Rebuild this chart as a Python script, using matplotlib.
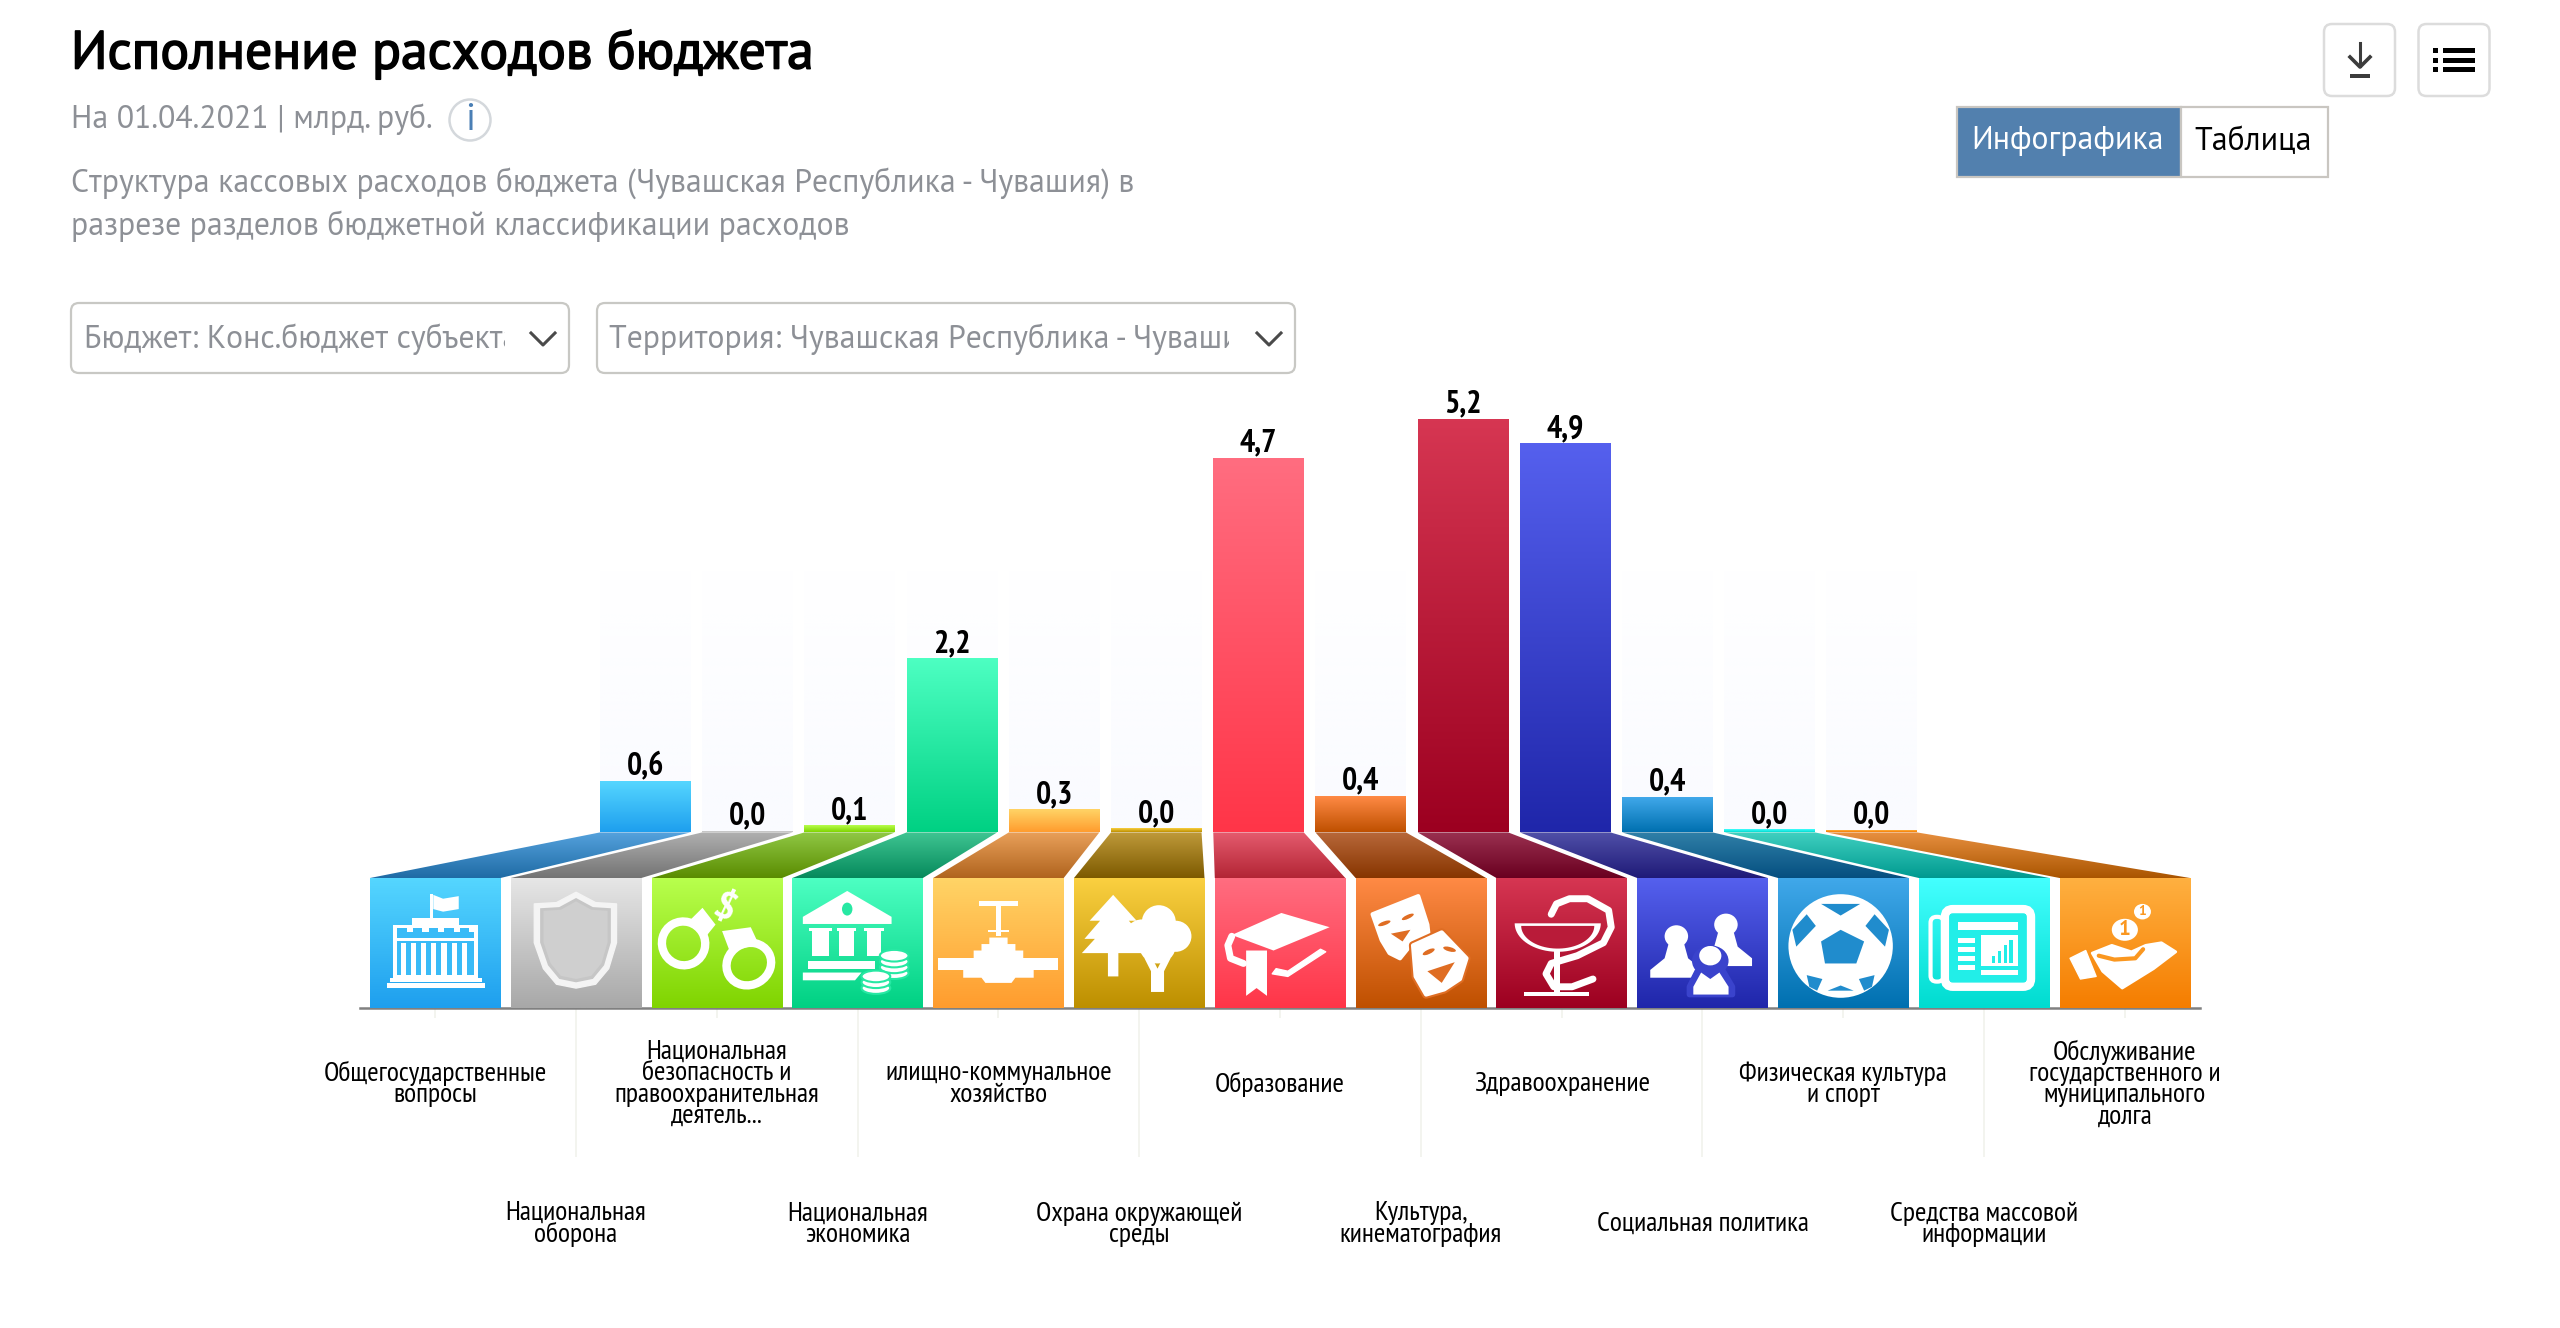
import numpy as np
import matplotlib
matplotlib.use("Agg")
import matplotlib.pyplot as plt
import matplotlib.patheffects as pe
from matplotlib.colors import to_rgb
from matplotlib.patches import Polygon, Ellipse, Rectangle, FancyBboxPatch, Circle

W, H = 2560, 1328

categories = [
    "Общегосударственные\nвопросы",
    "Национальная\nоборона",
    "Национальная\nбезопасность и\nправоохранительная\nдеятель...",
    "Национальная\nэкономика",
    "илищно-коммунальное\nхозяйство",
    "Охрана окружающей\nсреды",
    "Образование",
    "Культура,\nкинематография",
    "Здравоохранение",
    "Социальная политика",
    "Физическая культура\nи спорт",
    "Средства массовой\nинформации",
    "Обслуживание\nгосударственного и\nмуниципального\nдолга",
]
values = [0.64, 0.01, 0.08, 2.18, 0.28, 0.04, 4.71, 0.45, 5.2, 4.89, 0.44, 0.03, 0.02]
value_labels = ["0,6", "0,0", "0,1", "2,2", "0,3", "0,0", "4,7", "0,4", "5,2", "4,9", "0,4", "0,0", "0,0"]

bar_top = ["#55d6ff", "#e6e6e6", "#b8ff4d", "#4dffc2", "#ffd466", "#fad040", "#ff6d80",
           "#ff8a45", "#d63652", "#5560ee", "#40a8ea", "#44ffff", "#ffb040"]
bar_bot = ["#1e9fee", "#a8a8a8", "#80d400", "#00d183", "#ff9c2e", "#bd8f00", "#ff3548",
           "#bf5000", "#9c0020", "#1f26aa", "#0070b0", "#00dcd0", "#f57d00"]
trap_top = ["#55a2dd", "#b0b0b0", "#90c845", "#3fc592", "#e9a05a", "#bf9a3a", "#e55b6e",
            "#b8683a", "#9a3050", "#5050a8", "#3080a8", "#40d0c0", "#e89040"]
trap_bot = ["#1f6ba5", "#737373", "#5a8c00", "#068a5c", "#b0641e", "#7d5a00", "#b32535",
            "#873500", "#6a0020", "#1f1a78", "#054f80", "#009a90", "#aa5500"]

NARROW = ["PT Sans Narrow", "Liberation Sans Narrow", "Roboto", "DejaVu Sans"]
SANS = ["PT Sans", "Roboto", "DejaVu Sans"]
GRAY = "#8d9096"


def px_axes(l, t, r, b, **kw):
    return fig.add_axes([l / W, 1 - b / H, (r - l) / W, (b - t) / H], **kw)


def grad(a, l, r, b, t, c_top, c_bot, clip=None, alpha=None, zorder=2):
    c0, c1 = np.array(to_rgb(c_top)), np.array(to_rgb(c_bot))
    k = np.linspace(0, 1, 128)[:, None, None]
    img = c0 * (1 - k) + c1 * k
    if alpha is not None:
        img = np.dstack([img, (alpha[0] * (1 - k) + alpha[1] * k)])
    im = a.imshow(img, extent=(l, r, b, t), aspect="auto", interpolation="bilinear", zorder=zorder)
    if clip is not None:
        im.set_clip_path(clip)
    return im


fig = plt.figure(figsize=(W / 100, H / 100), dpi=100, facecolor="white")

# bars, value axis: 79.4 px per unit, base at y=832.4
BAR_PITCH, BAR_W, BAR_X0, BASE_Y, UNIT = 102.2, 90.5, 645.3, 832.4, 79.4
ax_l, ax_r, ax_t = 560, 1980, 380
ax = px_axes(ax_l, ax_t, ax_r, BASE_Y, zorder=2)
ax.set_xlim((ax_l - BAR_X0) / BAR_PITCH, (ax_r - BAR_X0) / BAR_PITCH)
ax.set_ylim(0, (BASE_Y - ax_t) / UNIT)
ax.set_autoscale_on(False)
ax.axis("off")
xs = np.arange(len(values))
wd = BAR_W / BAR_PITCH
bars = ax.bar(xs, values, width=wd, color=bar_bot, zorder=3)
for i, b in enumerate(bars):
    grad(ax, b.get_x(), b.get_x() + wd, 0, 3.3, "#fafbff", "#fafbff", alpha=(0, 1), zorder=1)
    grad(ax, b.get_x(), b.get_x() + wd, 0, values[i], bar_top[i], bar_bot[i], zorder=4)
    ax.annotate(value_labels[i], (i, values[i]), xytext=(0, 0), textcoords="offset pixels",
                ha="center", va="bottom", fontsize=23, fontweight="bold", family=NARROW, color="black", zorder=5)

# icon tiles, category axis
TILE_PITCH, TILE_W, TILE_X0, TILE_T, AXIS_Y = 140.8, 130.5, 435.25, 878, 1007.5
cat_l, cat_r = 360, 2200
ax_cat = px_axes(cat_l, TILE_T, cat_r, AXIS_Y, zorder=3)
ax_cat.set_xlim((cat_l - TILE_X0) / TILE_PITCH, (cat_r - TILE_X0) / TILE_PITCH)
ax_cat.set_ylim(0, 1)
ax_cat.set_autoscale_on(False)
ax_cat.patch.set_visible(False)
for s in ["top", "left", "right"]:
    ax_cat.spines[s].set_visible(False)
ax_cat.spines["bottom"].set_color("#808080")
ax_cat.spines["bottom"].set_linewidth(1.8)
ax_cat.set_yticks([])
ax_cat.set_xticks(np.arange(0, 13, 2))
ax_cat.set_xticks(np.arange(1, 13, 2), minor=True)
ax_cat.set_xticklabels([])
ax_cat.tick_params(axis="x", which="major", length=7, width=1.4, color="#f3f4ef")
ax_cat.tick_params(axis="x", which="minor", length=107, width=1.4, color="#f3f4ef")
tw = TILE_W / TILE_PITCH
tiles = ax_cat.bar(np.arange(13), [1] * 13, width=tw, color=bar_bot, zorder=2)
for i, b in enumerate(tiles):
    grad(ax_cat, b.get_x(), b.get_x() + tw, 0, 1, bar_top[i], bar_bot[i], zorder=3)
    off = -76.5 if i % 2 == 0 else -216.5
    ax_cat.annotate(categories[i], (i, 0), xycoords=("data", "axes fraction"), xytext=(0, off),
                    textcoords="offset pixels", ha="center", va="center", fontsize=20,
                    family=NARROW, linespacing=0.85, color="black")

# page chrome and trapezoids, in pixel coordinates
ui = fig.add_axes([0, 0, 1, 1], zorder=5)
ui.set_xlim(0, W)
ui.set_ylim(H, 0)
ui.set_autoscale_on(False)
ui.axis("off")

for i in range(13):
    t0 = BAR_X0 + i * BAR_PITCH - BAR_W / 2
    b0 = TILE_X0 + i * TILE_PITCH - TILE_W / 2
    pts = [(t0, BASE_Y), (t0 + BAR_W, BASE_Y), (b0 + TILE_W, TILE_T), (b0, TILE_T)]
    grad(ui, min(t0, b0), max(t0 + BAR_W, b0 + TILE_W), TILE_T, BASE_Y, trap_top[i], trap_bot[i],
         clip=Polygon(pts, closed=True, transform=ui.transData))


def tile_pt(i, u, v):
    return (TILE_X0 + i * TILE_PITCH - TILE_W / 2 + u * TILE_W, TILE_T + v * (AXIS_Y - TILE_T))


def poly(i, pts, c="white", lw=0, **kw):
    ui.add_patch(Polygon([tile_pt(i, u, v) for u, v in pts], closed=True, fc=c, ec=c, lw=lw,
                         joinstyle="round", **kw))


def rect(i, u0, v0, u1, v1, c="white"):
    poly(i, [(u0, v0), (u1, v0), (u1, v1), (u0, v1)], c)


def ell(i, u, v, ru, rv, c="white", ec=None, lw=0, angle=0):
    x, y = tile_pt(i, u, v)
    ui.add_patch(Ellipse((x, y), 2 * ru * TILE_W, 2 * rv * (AXIS_Y - TILE_T), angle=angle, fc=c,
                         ec=ec if ec else c, lw=lw))


def curve(i, pts, c="white", lw=4):
    p = [tile_pt(i, u, v) for u, v in pts]
    ui.plot([a for a, _ in p], [b for _, b in p], color=c, lw=lw, solid_capstyle="round", solid_joinstyle="round")


def mid(i):
    return tuple((np.array(to_rgb(bar_top[i])) + np.array(to_rgb(bar_bot[i]))) / 2)


# 0 building
c = mid(0)
rect(0, .13, .81, .88, .85)
rect(0, .15, .77, .86, .80)
rect(0, .18, .36, .83, .77)
rect(0, .21, .42, .80, .46, c)
for u in np.arange(.21, .76, .12):
    rect(0, u, .385, u + .07, .43, c)
rect(0, .21, .49, .80, .75, c)
for u in np.arange(.235, .78, .078):
    rect(0, u, .50, u + .04, .75)
rect(0, .32, .31, .68, .36)
rect(0, .46, .12, .485, .31)
poly(0, [(.485, .13), (.56, .16), (.68, .14), (.68, .24), (.56, .26), (.485, .24)])
# 1 shield
shield = [(.18, .2), (.35, .19), (.5, .11), (.65, .19), (.81, .2), (.81, .5), (.75, .7), (.65, .82),
          (.5, .85), (.35, .82), (.25, .7), (.18, .5)]
poly(1, shield, "#f4f4f4", lw=1)
poly(1, [(.5 + (u - .5) * .86, .48 + (v - .48) * .88) for u, v in shield], "#c6c6c6")
poly(1, [(.5 + (u - .5) * .78, .48 + (v - .48) * .81) for u, v in shield], "#cfcfcf")
# 2 handcuffs
c = mid(2)
ell(2, .245, .505, .165, .17, "none", "white", 6, angle=-30)
ell(2, .745, .665, .175, .16, "none", "white", 6, angle=-30)
poly(2, [(.27, .35), (.39, .23), (.49, .36), (.41, .46)])
poly(2, [(.54, .41), (.76, .38), (.82, .51), (.60, .57)])
ui.text(*tile_pt(2, .55, .24), "$", color="white", fontsize=27, fontweight="bold", rotation=-25,
        ha="center", va="center", family=SANS)
# 3 bank
c = mid(3)
poly(3, [(.42, .10), (.76, .30), (.76, .355), (.08, .355), (.08, .30)])
ell(3, .42, .24, .04, .05, c)
for u0, u1 in [(.15, .28), (.36, .47), (.57, .68)]:
    rect(3, u0 - .02, .385, u1 + .02, .41)
    rect(3, u0, .41, u1, .60)
rect(3, .12, .64, .63, .70)
poly(3, [(.08, .73), (.53, .73), (.48, .79), (.08, .79)])
for u, v0, n in [(.78, .60, 4), (.64, .76, 3)]:
    for k in range(n - 1, -1, -1):
        ell(3, u, v0 + k * .045, .11, .045, "white", c, 1.5)
# 4 valve
rect(4, .04, .62, .96, .71)
rect(4, .35, .18, .65, .22)
rect(4, .48, .22, .52, .45)
rect(4, .42, .40, .58, .42)
poly(4, [(.43, .46), (.57, .46), (.57, .51), (.63, .51), (.63, .56), (.69, .56), (.69, .62), (.77, .62),
         (.77, .77), (.63, .77), (.60, .81), (.40, .81), (.37, .77), (.23, .77), (.23, .62), (.31, .62),
         (.31, .56), (.37, .56), (.37, .51), (.43, .51)])
# 5 trees
poly(5, [(.30, .13), (.48, .33), (.42, .33), (.54, .47), (.46, .47), (.56, .58), (.34, .58), (.34, .76),
         (.26, .76), (.26, .58), (.06, .58), (.16, .47), (.08, .47), (.20, .33), (.12, .33)])
for u, v, r in [(.65, .34, .13), (.52, .45, .13), (.78, .45, .12), (.64, .52, .14)]:
    ell(5, u, v, r, r, "white")
poly(5, [(.59, .60), (.64, .70), (.69, .60), (.74, .62), (.69, .72), (.69, .88), (.59, .88), (.59, .72), (.54, .62)])
# 6 graduation cap
c = mid(6)
poly(6, [(.51, .27), (.88, .38), (.45, .56), (.13, .44)])
curve(6, [(.13, .45), (.10, .52), (.12, .62), (.22, .66)], lw=5)
poly(6, [(.24, .56), (.40, .56), (.40, .91), (.32, .85), (.24, .91)])
poly(6, [(.44, .74), (.56, .76), (.85, .57), (.81, .55), (.56, .72), (.47, .70)], lw=1)
# 7 masks
c = mid(7)
poly(7, [(.13, .28), (.48, .14), (.55, .36), (.56, .45), (.42, .52), (.34, .62), (.26, .58), (.20, .48)], lw=3)
poly(7, [(.44, .52), (.66, .42), (.85, .62), (.80, .78), (.68, .86), (.54, .90), (.46, .76)], c, lw=6)
poly(7, [(.44, .52), (.66, .42), (.85, .62), (.80, .78), (.68, .86), (.54, .90), (.46, .76)], lw=3)
ell(7, .22, .35, .05, .015, c, angle=-20)
ell(7, .40, .30, .05, .015, c, angle=-25)
poly(7, [(.27, .43), (.42, .40), (.36, .49)], c)
ell(7, .56, .57, .05, .017, c, angle=-25)
ell(7, .72, .55, .05, .017, c, angle=15)
poly(7, [(.55, .72), (.76, .65), (.66, .81)], c)
# 8 bowl of hygieia
c = mid(8)
t = np.linspace(0, np.pi, 40)
poly(8, list(zip(.47 + .33 * np.cos(t), .35 + .22 * np.sin(t))))
poly(8, list(zip(.47 + .28 * np.cos(t), .37 + .175 * np.sin(t))), c)
rect(8, .44, .55, .49, .88)
rect(8, .21, .88, .71, .91)
curve(8, [(.42, .28), (.46, .20), (.56, .16), (.70, .16), (.86, .25), (.88, .38), (.82, .50), (.62, .60),
          (.42, .66), (.38, .74), (.44, .84), (.58, .84), (.74, .78)], lw=5)
# 9 people
c = mid(9)
for u, v, s in [(.30, .45, 1), (.68, .36, 1)]:
    ell(9, u, v, .09 * s, .085 * s)
    poly(9, [(u - .06, v + .06), (u + .06, v + .06), (u + .09, v + .17), (u + .20, v + .26), (u + .20, v + .32),
             (u - .20, v + .32), (u - .20, v + .26), (u - .09, v + .17)])
ell(9, .56, .64, .14, .12, c)
ell(9, .56, .60, .085, .075)
poly(9, [(.46, .72), (.66, .72), (.73, .84), (.73, .90), (.40, .90), (.40, .84)], c, lw=4)
poly(9, [(.49, .73), (.56, .78), (.63, .73), (.70, .84), (.70, .90), (.43, .90), (.43, .84)])
# 10 ball
c = mid(10)
ell(10, .48, .525, .40, .40)
poly(10, [(.48, .40), (.66, .49), (.60, .66), (.36, .66), (.33, .49)], c)
poly(10, [(.33, .20), (.63, .20), (.48, .29)], c)
poly(10, [(.14, .53), (.29, .37), (.22, .28), (.11, .40)], c)
poly(10, [(.82, .53), (.67, .37), (.74, .28), (.85, .40)], c)
poly(10, [(.22, .75), (.34, .78), (.30, .87), (.24, .84)], c)
poly(10, [(.74, .75), (.62, .78), (.66, .87), (.72, .84)], c)
poly(10, [(.38, .87), (.58, .87), (.48, .83)], c)
# 11 newspaper
c = mid(11)
ui.add_patch(FancyBboxPatch(tile_pt(11, .09, .30), .10 * TILE_W, .50 * (AXIS_Y - TILE_T),
                            boxstyle="round,pad=0,rounding_size=6", fc="none", ec="white", lw=3))
ui.add_patch(FancyBboxPatch(tile_pt(11, .20, .24), .66 * TILE_W, .60 * (AXIS_Y - TILE_T),
                            boxstyle="round,pad=0,rounding_size=8", fc=c, ec="white", lw=6))
rect(11, .30, .34, .76, .40)
for v in [.46, .53, .60, .67]:
    rect(11, .30, v, .43, v + .04)
rect(11, .48, .44, .76, .68)
rect(11, .48, .71, .76, .75)
for k, h in enumerate([.06, .10, .14, .18]):
    rect(11, .56 + k * .045, .66 - h, .585 + k * .045, .66, c)
# 12 hand with coins
c = mid(12)
ell(12, .50, .40, .10, .085)
ell(12, .635, .26, .065, .06)
ui.text(*tile_pt(12, .50, .40), "1", color=c, fontsize=15, fontweight="bold", ha="center", va="center", family=SANS)
ui.text(*tile_pt(12, .635, .26), "1", color=c, fontsize=10, fontweight="bold", ha="center", va="center", family=SANS)
poly(12, [(.08, .62), (.20, .56), (.28, .76), (.16, .78)], lw=1)
poly(12, [(.25, .58), (.40, .52), (.55, .57), (.66, .52), (.78, .50), (.89, .57), (.72, .70), (.48, .85), (.33, .72)], lw=2)
curve(12, [(.30, .60), (.42, .63), (.58, .62), (.64, .55)], c, lw=3)

# header
title = ui.text(71, 54, "Исполнение расходов бюджета", fontsize=38.6, family=SANS, color="black", va="center")
title.set_path_effects([pe.withStroke(linewidth=1.2, foreground="black")])
ui.text(71, 119, "На 01.04.2021 | млрд. руб.", fontsize=22.9, family=SANS, color=GRAY, va="center")
ui.add_patch(Circle((470, 120), 20.5, fc="white", ec="#d4d8dc", lw=1.8))
ui.text(470, 120, "i", fontsize=27, color="#4a7fb5", family=SANS, ha="center", va="center")
ui.text(71, 183.5, "Структура кассовых расходов бюджета (Чувашская Республика - Чувашия) в", fontsize=22.9, family=SANS, color=GRAY, va="center")
ui.text(71, 226, "разрезе разделов бюджетной классификации расходов", fontsize=22.9, family=SANS, color=GRAY, va="center")

# dropdowns
for l, r, tx, clip_r, cx, s in [
    (71, 569, 84, 505, 543, "Бюджет: Конс.бюджет субъекта"),
    (597, 1295, 609, 1229, 1269, "Территория: Чувашская Республика - Чувашия"),
]:
    ui.add_patch(FancyBboxPatch((l, 303), r - l, 70, boxstyle="round,pad=0,rounding_size=8", fc="white", ec="#c8c8c4", lw=1.6))
    lab = ui.text(tx, 339.5, s, fontsize=22.9, family=SANS, color=GRAY, va="center", clip_on=True)
    lab.set_clip_path(Rectangle((tx, 303), clip_r - tx, 70, transform=ui.transData))
    ui.plot([cx - 12, cx, cx + 12], [333, 345, 333], color="#4a4a4a", lw=2.2)

# buttons
for l in [2324, 2418.5]:
    ui.add_patch(FancyBboxPatch((l, 24), 71, 72, boxstyle="round,pad=0,rounding_size=8", fc="white", ec="#dcdcdc", lw=1.8))
ui.plot([2360, 2360], [43, 66], color="#3c3c3c", lw=2.2)
ui.plot([2350, 2360, 2370], [57, 67, 57], color="#3c3c3c", lw=2.6)
ui.add_patch(Rectangle((2349.5, 74), 20.5, 4, fc="#3c3c3c", ec="none"))
for y in [50, 60, 69]:
    ui.add_patch(Rectangle((2433, y - 2.5), 5, 5, fc="black", ec="none"))
    ui.add_patch(Rectangle((2443, y - 2.5), 32, 5, fc="black", ec="none"))

# toggle
ui.add_patch(Rectangle((1957, 107), 2180.7 - 1957, 70, fc="#5280ae", ec="#c9c6c1", lw=1.6))
ui.add_patch(Rectangle((2180.7, 107), 2327.6 - 2180.7, 70, fc="white", ec="#c9c6c1", lw=1.6))
ui.text(2068, 141.5, "Инфографика", fontsize=22.9, family=SANS, color="white", ha="center", va="center")
ui.text(2253, 141.5, "Таблица", fontsize=22.9, family=SANS, color="black", ha="center", va="center")

fig.savefig("out.png", dpi=100, facecolor="white")
